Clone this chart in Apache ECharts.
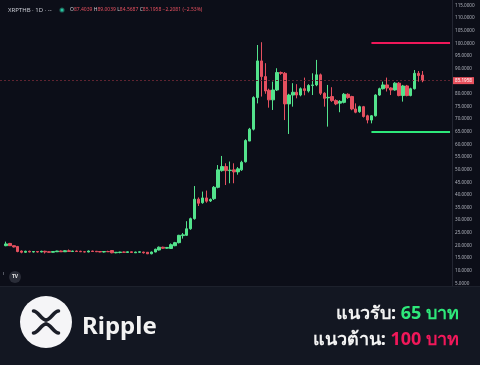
<!DOCTYPE html>
<html>
<head>
<meta charset="utf-8">
<script src="https://cdn.jsdelivr.net/npm/echarts@6/dist/echarts.min.js"></script>
<style>
html,body{margin:0;padding:0;background:#0c0e18;}
#c{width:480px;height:365px;}
</style>
</head>
<body>
<div id="c"></div>
<script>
// ---- data (XRP/THB daily candles) ----
const opens = [
19.9,20.8,19.9,19.6,17.8,17.3,17.7,17.4,17.6,17.4,
17.7,17.5,17.3,17.5,17.8,17.5,17.9,17.6,17.8,17.7,
17.5,17.4,17.8,17.7,17.6,17.4,17.6,18.0,17.1,17.2,
17.4,17.2,17.5,17.1,17.3,17.4,17.3,16.7,17.4,18.2,
19.3,18.9,18.8,19.9,21.1,23.9,24.0,26.6,30.6,38.3,
36.9,38.8,37.6,38.5,43.0,49.6,51.2,49.6,49.9,49.1,
49.9,53.1,61.3,66.0,78.5,93.0,86.8,81.4,77.6,81.5,
88.4,88.1,76.0,79.5,80.6,79.5,82.0,81.1,83.3,83.5,
87.5,80.2,78.4,78.9,77.3,76.3,76.6,79.8,78.9,74.0,
72.9,74.9,71.3,69.6,71.3,79.5,82.0,83.5,82.3,81.5,
84.2,79.3,83.1,79.3,82.0,88.1,87.4039
];
const closes = [
20.6,19.9,19.4,17.6,17.3,17.7,17.4,17.6,17.4,17.7,
17.4,17.3,17.6,17.8,17.5,17.9,17.6,17.8,17.6,17.5,
17.4,17.8,17.6,17.5,17.4,17.6,17.5,17.1,17.3,17.4,
17.3,17.5,17.2,17.4,17.5,17.1,16.7,17.4,18.5,19.3,
18.9,19.2,20.3,21.1,24.0,24.2,26.6,30.6,38.3,36.7,
38.8,37.5,38.2,43.0,49.9,51.2,49.6,49.8,49.1,50.3,
52.9,61.5,66.0,78.5,93.0,86.8,81.1,77.6,81.5,88.4,
88.1,76.0,79.5,80.6,79.5,82.0,81.3,83.3,83.5,87.5,
80.2,78.2,78.6,77.3,76.0,77.0,79.8,78.5,74.0,72.7,
74.9,71.0,69.6,71.3,79.5,82.0,83.5,82.3,81.5,84.2,
79.3,83.1,79.3,82.0,88.1,87.2,85.1958
];
const lows = [
19.7,19.8,19.2,17.3,16.9,17.1,17.3,17.2,17.2,17.3,
16.8,17.2,17.2,17.4,17.4,17.4,17.5,17.4,17.5,17.4,
17.3,17.3,17.5,17.4,17.3,17.2,17.4,16.9,16.9,16.9,
17.1,17.1,17.0,17.0,17.1,16.8,16.6,16.5,17.3,18.0,
18.7,18.7,18.6,19.7,20.8,22.7,23.8,26.2,30.2,35.6,
36.5,36.9,37.2,38.0,42.6,49.2,43.9,44.6,44.6,48.0,
49.5,52.8,63.5,65.5,76.2,78.9,80.0,74.5,73.6,81.1,
87.5,69.6,64.1,74.9,78.2,79.0,79.4,80.5,79.5,83.0,
79.5,74.9,67.0,76.8,75.5,72.7,76.2,78.0,73.5,72.3,
72.5,70.6,68.3,68.3,71.0,79.2,81.7,80.9,79.5,81.2,
79.0,76.9,79.0,79.0,81.7,84.8,84.5687
];
const highs = [
21.5,21.0,20.0,19.8,18.0,17.9,17.9,17.8,17.8,17.9,
17.9,17.7,17.7,17.9,18.0,18.1,18.4,17.9,18.0,17.9,
17.8,18.0,17.9,17.8,17.8,17.7,17.9,18.2,17.4,17.5,
17.6,17.6,17.6,17.5,17.6,17.5,17.4,17.6,18.7,19.6,
19.5,19.4,20.8,21.4,24.2,24.9,29.6,31.0,43.5,39.0,
41.3,41.7,38.6,43.5,51.8,55.4,52.5,53.2,52.5,51.0,
53.5,62.0,66.5,79.0,99.3,100.4,92.1,82.0,84.8,90.1,
88.8,88.6,80.0,84.2,83.8,82.5,86.4,83.8,88.1,93.4,
88.0,80.6,83.5,82.6,77.8,77.5,80.3,80.2,79.2,76.2,
75.3,75.2,71.7,71.6,79.8,82.4,84.8,86.4,82.6,84.6,
84.6,83.5,83.5,82.4,89.4,89.0,89.0039
];
const lastPrice = 85.1958;
const supportLevel = 65;
const resistanceLevel = 100;
const yTicks = {min: 0, max: 117.1, step: 5};
const headerSymbol = 'XRPTHB · 1D · --';
const headerOHLC = {O: '87.4039', H: '89.0039', L: '84.5687', C: '85.1958', chg: '−2.2081 (−2.53%)'};

// ---- build category slots (1 empty slot before, 7 after the candles) ----
const padBefore = 1, padAfter = 7;
const total = padBefore + opens.length + padAfter;
const cats = [];
for (let i = 0; i < total; i++) cats.push('d' + i);
const candleData = [];
for (let i = 0; i < padBefore; i++) candleData.push('-');
for (let i = 0; i < opens.length; i++) candleData.push([opens[i], closes[i], lows[i], highs[i]]);
for (let i = 0; i < padAfter; i++) candleData.push('-');

const UP = '#53e38c', DOWN = '#e5505f';
const chart = echarts.init(document.getElementById('c'), null, {renderer: 'canvas'});
const FONT = 'Noto Sans, DejaVu Sans, sans-serif';

// XRP logo halves as bezier pieces
function xrpHalf(y0, yc) {
  const st = {fill: null, stroke: '#1b1e28', lineWidth: 3.6, lineCap: 'round'};
  return [
    {type: 'bezierCurve', z: 113, shape: {x1: 33.5, y1: y0, cpx1: 38, cpy1: y0, cpx2: 41.5, cpy2: yc, x2: 46, y2: yc}, style: st},
    {type: 'bezierCurve', z: 113, shape: {x1: 46, y1: yc, cpx1: 50.5, cpy1: yc, cpx2: 54, cpy2: y0, x2: 58.5, y2: y0}, style: st}
  ];
}

chart.setOption({
  backgroundColor: '#0c0e18',
  animation: false,
  grid: {left: 0, right: 28, top: 0, bottom: 69},
  xAxis: {
    type: 'category', data: cats, boundaryGap: true,
    axisLine: {show: false}, axisTick: {show: false}, axisLabel: {show: false}, splitLine: {show: false}
  },
  yAxis: {
    type: 'value', position: 'right', min: yTicks.min, max: yTicks.max, interval: yTicks.step,
    splitLine: {show: false}, axisTick: {show: false},
    axisLine: {show: true, lineStyle: {color: '#232632', width: 1}},
    axisLabel: {
      color: '#b0b3bd', fontSize: 4.6, fontFamily: FONT, margin: 3,
      formatter: v => (Math.abs(v / 5 - Math.round(v / 5)) < 1e-6 && v > 0) ? v.toFixed(4) : ''
    }
  },
  series: [{
    type: 'candlestick',
    data: candleData,
    barWidth: 3,
    itemStyle: {color: UP, color0: DOWN, borderColor: UP, borderColor0: DOWN, borderWidth: 1},
    markLine: {
      symbol: 'none', silent: true, animation: false,
      data: [
        {
          yAxis: lastPrice,
          lineStyle: {color: '#5e2430', type: [2, 2], width: 1},
          label: {show: true, position: 'end', formatter: lastPrice.toFixed(4), backgroundColor: '#e8505c',
                  color: '#ffffff', fontSize: 4.6, fontFamily: FONT, padding: [1, 2, 1, 2], distance: 1}
        },
        [
          {coord: ['d94', resistanceLevel], lineStyle: {color: '#f0185a', width: 2, type: 'solid'}, label: {show: false}},
          {coord: ['d114', resistanceLevel]}
        ],
        [
          {coord: ['d94', supportLevel], lineStyle: {color: '#2ee87a', width: 2, type: 'solid'}, label: {show: false}},
          {coord: ['d114', supportLevel]}
        ]
      ]
    }
  }],
  graphic: [
    // header
    {type: 'text', z: 100, x: 8, y: 10, style: {text: headerSymbol, fill: '#c8cad2', font: '6px ' + FONT, verticalAlign: 'middle'}},
    {type: 'circle', z: 100, shape: {cx: 62, cy: 10, r: 2.6}, style: {fill: '#1f5f56'}},
    {type: 'circle', z: 101, shape: {cx: 62, cy: 10, r: 1.5}, style: {fill: '#26c6a0'}},
    {type: 'text', z: 100, x: 70, y: 10, style: {
      text: '{l|O}{v|' + headerOHLC.O + '} {l|H}{v|' + headerOHLC.H + '} {l|L}{v|' + headerOHLC.L + '} {l|C}{v|' + headerOHLC.C + '} {v|' + headerOHLC.chg + '}',
      font: '5px ' + FONT, verticalAlign: 'middle',
      rich: {l: {fill: '#c8cad2', font: '5px ' + FONT}, v: {fill: '#e5505f', font: '5px ' + FONT}}
    }},
    // TradingView badge
    {type: 'circle', z: 100, shape: {cx: 15, cy: 277, r: 6}, style: {fill: '#2a2d38'}},
    {type: 'text', z: 101, x: 15, y: 277, style: {text: 'TV', fill: '#e6e6e6', font: 'bold 5px ' + FONT, align: 'center', verticalAlign: 'middle'}},
    {type: 'rect', z: 100, shape: {x: 3, y: 272, width: 0.8, height: 3}, style: {fill: '#666a75'}},
    // bottom banner
    {type: 'rect', z: 110, shape: {x: 0, y: 286, width: 480, height: 79}, style: {fill: '#131722'}},
    {type: 'rect', z: 111, shape: {x: 0, y: 286, width: 480, height: 1}, style: {fill: '#1d212c'}},
    {type: 'circle', z: 112, shape: {cx: 46, cy: 322, r: 26}, style: {fill: '#f5f5f7'}},
    ...xrpHalf(311, 320),
    ...xrpHalf(333, 324),
    {type: 'text', z: 112, x: 82, y: 327, style: {text: 'Ripple', fill: '#f2f2f2', font: 'bold 24px ' + FONT, verticalAlign: 'middle', align: 'left'}},
    {type: 'text', z: 112, x: 459, y: 314, style: {
      text: '{w|แนวรับ: }{g|65 บาท}', align: 'right', verticalAlign: 'middle',
      rich: {w: {fill: '#f2f2f2', font: 'bold 18px ' + FONT}, g: {fill: '#2ee87a', font: 'bold 18px ' + FONT}}
    }},
    {type: 'text', z: 112, x: 459, y: 340, style: {
      text: '{w|แนวต้าน: }{r|100 บาท}', align: 'right', verticalAlign: 'middle',
      rich: {w: {fill: '#f2f2f2', font: 'bold 18px ' + FONT}, r: {fill: '#f0185a', font: 'bold 18px ' + FONT}}
    }}
  ]
});
</script>
</body>
</html>
